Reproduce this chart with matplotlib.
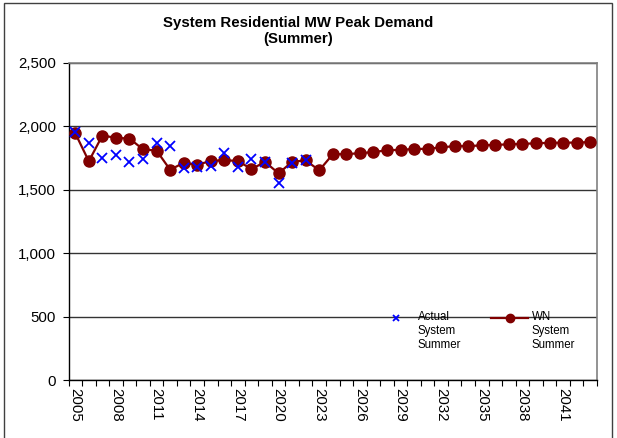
import matplotlib.pyplot as plt
import numpy as np
from matplotlib.patches import Rectangle
from matplotlib.ticker import FuncFormatter, FixedLocator

plt.rcParams['font.family'] = ['Liberation Sans', 'DejaVu Sans']

years = list(range(2005, 2044))
actual = [1953, 1871, 1751, 1775, 1720, 1746, 1868, 1848, 1673, 1676,
          1687, 1793, 1676, 1746, 1720, 1557, 1715, 1733]
wn = [1946, 1725, 1928, 1910, 1904, 1819, 1809, 1658, 1713, 1697,
      1728, 1733, 1728, 1663, 1720, 1630, 1720, 1733, 1653, 1780,
      1782, 1788, 1798, 1811, 1816, 1821, 1824, 1834, 1845, 1845,
      1850, 1855, 1858, 1863, 1866, 1871, 1871, 1873, 1876]

W, H = 617, 438
fig = plt.figure(figsize=(W / 100, H / 100), dpi=100)
ax = fig.add_axes([68.5 / W, 1 - 380 / H, (597 - 68.5) / W, (380 - 63) / H])

xa = np.arange(len(actual))
xw = np.arange(len(wn))
red = '#800000'
ax.plot(xw, wn, color=red, lw=1.6, marker='o', ms=8, zorder=3)
ax.plot(xa, actual, ls='none', marker='x', ms=7, mew=1.3, color='#0000ff', zorder=4)

ax.set_xlim(-0.5, len(years) - 0.5)
ax.set_ylim(0, 2500)
ax.set_yticks(range(0, 2501, 500))
ax.yaxis.set_major_formatter(FuncFormatter(lambda v, p: f'{int(v):,}'))
ax.grid(axis='y', color='#333333', lw=1)
ax.set_axisbelow(True)

ax.xaxis.set_major_locator(FixedLocator(np.arange(-0.5, len(years), 1)))
ax.xaxis.set_major_formatter(FuncFormatter(lambda v, p: ''))
lab_pos = list(range(0, len(years), 3))
ax.xaxis.set_minor_locator(FixedLocator(lab_pos))
ax.set_xticklabels([str(years[i]) for i in lab_pos], minor=True, rotation=-90)
ax.tick_params(axis='x', which='major', length=4, width=0.8, direction='out')
ax.tick_params(axis='x', which='minor', length=0, pad=6, labelsize=10.8)
ax.tick_params(axis='y', length=4, width=0.8, labelsize=10.8, pad=5)

for s in ['left', 'bottom']:
    ax.spines[s].set_color('black')
    ax.spines[s].set_linewidth(1)
for s in ['right', 'top']:
    ax.spines[s].set_color('#808080')
    ax.spines[s].set_linewidth(1.2)

fig.text(298 / W, 1 - 31 / H, 'System Residential MW Peak Demand\n(Summer)',
         ha='center', va='center', fontsize=10.8, fontweight='bold', linespacing=1.1)

# legend drawn by hand (handles aligned with first text line)
def px(x, y):
    return (x - 68.5) / (597 - 68.5), (380 - y) / (380 - 63)

lx, ly = px(396, 318)
ax.plot([lx], [ly], transform=ax.transAxes, marker='x', ms=4.5, mew=1.3,
        color='#0000ff', clip_on=False)
tx, ty = px(418, 311)
ax.text(tx, ty, 'Actual\nSystem\nSummer', transform=ax.transAxes, ha='left', va='top',
        fontsize=8.3, linespacing=1.2)
l1, _ = px(491, 318)
l2, _ = px(528, 318)
m, _ = px(510, 318)
ax.plot([l1, l2], [ly, ly], transform=ax.transAxes, color=red, lw=1.6, clip_on=False)
ax.plot([m], [ly], transform=ax.transAxes, color=red, marker='o', ms=6, clip_on=False)
tx2, _ = px(532, 311)
ax.text(tx2, ty, 'WN\nSystem\nSummer', transform=ax.transAxes, ha='left', va='top',
        fontsize=8.3, linespacing=1.2)

fig.patches.append(Rectangle((4 / W, -0.01), 608 / W, 1 - 3 / H + 0.01,
                             transform=fig.transFigure, fill=False,
                             edgecolor='#404040', lw=1))

fig.savefig('out.png', dpi=100)
